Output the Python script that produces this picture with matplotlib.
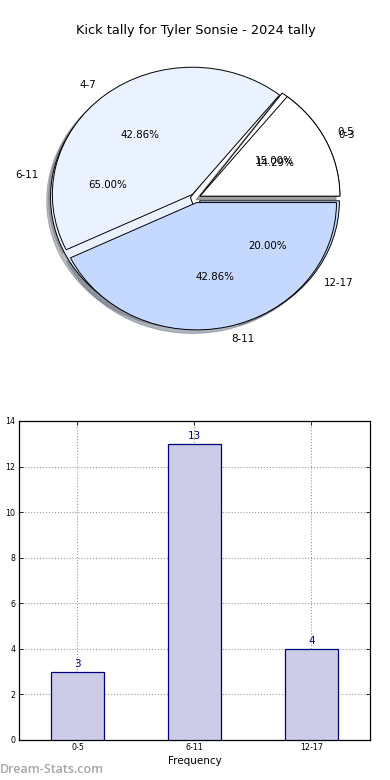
import matplotlib
matplotlib.use("Agg")
import matplotlib.pyplot as plt

# Data
title = "Kick tally for Tyler Sonsie - 2024 tally"
pie_a_labels = ["0-3", "4-7", "8-11"]
pie_a_values = [1, 3, 3]
pie_b_labels = ["0-5", "6-11", "12-17"]
pie_b_values = [3, 13, 4]
bar_labels = ["0-5", "6-11", "12-17"]
bar_values = [3, 13, 4]

pie_colors = ["#ffffff", "#ebf2ff", "#c5d8ff"]

fig = plt.figure(figsize=(3.9, 7.8), dpi=100)

# Pie axes
ax1 = fig.add_axes([0.0526, 0.542, 0.897, 0.408])
explode = [0.036, 0.036, 0.036]
fs = 7.4
for labels, vals in ((pie_b_labels, pie_b_values), (pie_a_labels, pie_a_values)):
    wedges, texts, autotexts = ax1.pie(
        vals, labels=labels, colors=pie_colors, explode=explode,
        autopct="%1.2f%%", shadow={"shade": 0.5},
        wedgeprops=dict(edgecolor="black", linewidth=0.7),
        textprops=dict(fontsize=fs))
ax1.set_aspect("auto")
ax1.set_xlim(-1.25, 1.25)
ax1.set_ylim(-1.25, 1.25)
ax1.set_title(title, fontsize=9.3, pad=3.5)

# Bar axes
ax2 = fig.add_axes([0.0487, 0.0513, 0.9, 0.409])
x = list(range(len(bar_values)))
ax2.bar(x, bar_values, width=0.45, color="#cccce6", edgecolor="#000080",
        linewidth=0.9, zorder=3)
for xi, v in zip(x, bar_values):
    ax2.text(xi, v + 0.12, str(v), ha="center", va="bottom",
             color="#000080", fontsize=7.5)
ax2.set_xlim(-0.5, 2.5)
ax2.set_ylim(0, 14)
ax2.set_yticks(range(0, 15, 2))
ax2.set_xticks(x)
ax2.set_xticklabels(bar_labels)
ax2.tick_params(axis="both", direction="in", top=True, right=True,
                labelsize=5.7, length=3, width=0.6, pad=2.5)
ax2.grid(True, linestyle=":", color="#999999", linewidth=0.8, zorder=0)
ax2.set_axisbelow(True)
for s in ax2.spines.values():
    s.set_linewidth(0.9)
ax2.set_xlabel("Frequency", fontsize=7.5, labelpad=2.5)
ax2.set_ylabel("Distribution", fontsize=6.5)
ax2.yaxis.set_label_coords(-0.058, 0.5)

fig.text(0.0, 0.0055, "Dream-Stats.com", fontsize=9, color="#a6a6a6",
         ha="left", va="bottom", family="Open Sans", fontweight="semibold")

fig.savefig("out.png", dpi=100)
